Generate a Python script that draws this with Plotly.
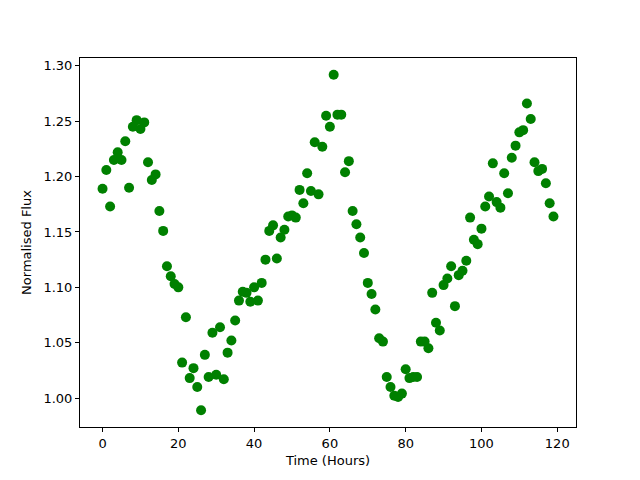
import plotly.graph_objects as go

hours = list(range(120))
flux = [
    1.189, 1.206, 1.173, 1.215, 1.222, 1.215, 1.232, 1.190, 1.245, 1.251,
    1.243, 1.249, 1.213, 1.197, 1.202, 1.169, 1.151, 1.119, 1.110, 1.103,
    1.100, 1.032, 1.073, 1.018, 1.027, 1.010, 0.989, 1.039, 1.019, 1.059,
    1.021, 1.064, 1.017, 1.041, 1.052, 1.070, 1.088, 1.096, 1.095, 1.087,
    1.100, 1.088, 1.104, 1.125, 1.151, 1.156, 1.126, 1.145, 1.152, 1.164,
    1.165, 1.163, 1.188, 1.176, 1.203, 1.187, 1.231, 1.184, 1.227, 1.255,
    1.245, 1.292, 1.256, 1.256, 1.204, 1.214, 1.169, 1.157, 1.145, 1.131,
    1.104, 1.094, 1.080, 1.054, 1.051, 1.019, 1.010, 1.002, 1.001, 1.004,
    1.026, 1.018, 1.019, 1.019, 1.051, 1.051, 1.045, 1.095, 1.068, 1.061,
    1.102, 1.108, 1.119, 1.083, 1.111, 1.115, 1.124, 1.163, 1.143, 1.139,
    1.153, 1.173, 1.182, 1.212, 1.177, 1.172, 1.203, 1.185, 1.217, 1.228,
    1.240, 1.242, 1.266, 1.252, 1.213, 1.205, 1.207, 1.194, 1.176, 1.164,
]
x_ticks = [0, 20, 40, 60, 80, 100, 120]
y_ticks = [1.00, 1.05, 1.10, 1.15, 1.20, 1.25, 1.30]

fig = go.Figure(go.Scatter(
    x=hours, y=flux, mode="markers",
    marker=dict(color="#008000", size=10, line=dict(width=0)),
))

pad_x = (max(hours) - min(hours)) * 0.05
pad_y = (max(flux) - min(flux)) * 0.05
axis_common = dict(
    showgrid=False, zeroline=False, showline=True, linecolor="black",
    linewidth=1, mirror=True, ticks="outside", ticklen=4, tickcolor="black",
    tickfont=dict(size=13, color="black"), automargin=False,
)
fig.update_layout(
    width=640, height=480,
    margin=dict(l=72, r=72, t=50, b=61, pad=0),
    plot_bgcolor="white", paper_bgcolor="white",
    font=dict(family="DejaVu Sans", size=13, color="black"),
    showlegend=False,
    xaxis=dict(range=[min(hours) - pad_x, max(hours) + pad_x],
               tickvals=x_ticks, ticktext=[str(v) for v in x_ticks],
               title=dict(text="Time (Hours)", font=dict(size=13), standoff=6),
               **axis_common),
    yaxis=dict(range=[min(flux) - pad_y, max(flux) + pad_y],
               tickvals=y_ticks, ticktext=[f"{v:.2f}" for v in y_ticks],
               title=dict(text="Normalised Flux", font=dict(size=13), standoff=8),
               **axis_common),
)
fig.write_html("out.html")
